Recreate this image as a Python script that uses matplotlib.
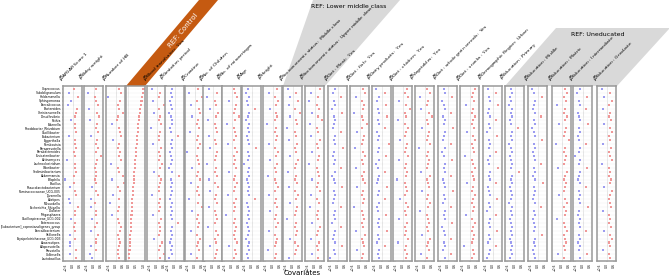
import numpy as np
import matplotlib.pyplot as plt
from matplotlib.patches import Polygon
from matplotlib.ticker import MaxNLocator

W, H = 669, 277

GENERA = [
    "Coprococcus", "Subdoligranulum", "Holdemanella", "Sphingomonas", "Faecalicoccus",
    "Bacteroides", "Christensenella", "Desulfovibrio", "Rothia", "Eikenella",
    "Rhodobacter_Rhizobium", "Oscillibacter", "Eubacterium", "Eggerthella", "Romboutsia",
    "Paraprevotella", "Parabacteroides", "Fusicatenibacter", "Actinomyces", "Lachnoclostridium",
    "Odoribacter", "Sediminibacterium", "Akkermansia", "Bilophila", "Bacillus",
    "Phascolarctobacterium", "Ruminococcaceae_UCG-005", "Tyzzerella", "Alistipes", "Mitsuokella",
    "Escherichia_Shigella", "Dialister", "Megasphaera", "Oscillospiraceae_UCG-002", "Enterococcus",
    "[Eubacterium]_coprostanoligenes_group", "Faecalibacterium", "Veillonella",
    "Erysipelotrichaceae_UCG-003", "Anaerostipes", "Alloprevotella", "Prevotella",
    "Collinsella", "Lactobacillus",
]

COVARIATES = [
    "APGAR Score 1", "Baby weight", "Number of HB", "Status: Anemic",
    "Blood transfusion: Yes", "Gestation period", "Creatine", "No. of Children",
    "No. of miscarriages", "Age", "Height", "Socioeconomic status: Middle class",
    "Socioeconomic status: Upper middle class", "Diet: Meat: Yes", "Diet: fish: Yes",
    "Dairy products: Yes", "Diet: chicken: Yes", "Vegetables: Yes",
    "Diet: whole grain cereals: Yes", "Diet: snacks: Yes", "Demographic Region: Urban",
    "Education: Primary", "Education: Middle", "Education: Matric",
    "Education: Intermediate", "Education: Graduate",
]

b01 = [0.1,-0.3,0.5,-0.1,-0.4,0.4,0.3,0.2,-0.1,0.2,0.2,0.3,-0.3,0.2,0.2,0.3,0.1,0.2,-0.5,0.2,0.2,0.3,0.1,-0.6,0.1,-0.2,0.2,0.3,-0.3,-0.2,0.5,0.2,0.2,-0.1,0.2,0.1,0.2,-0.2,0.2,-0.2,-0.2,0.3,-0.2,0.3]
b02 = [0.2,-0.5,0.1,0.2,0.4,-0.4,0.3,0.5,-0.3,0.3,0.2,0.4,-0.2,0.3,0.2,0.4,0.2,0.6,0.3,0.2,0.1,0.2,0.2,0.1,0.2,-0.1,0.2,0.4,-0.2,0.1,-0.2,0.2,0.2,-0.1,0.3,0.1,-0.2,0.4,0.2,0.2,-0.2,0.2,-0.3,-0.1]
b03 = [0.3,0.5,-0.6,0.4,0.2,0.3,0.6,0.2,0.1,-0.3,0.3,0.4,0.5,-0.2,0.3,0.2,0.4,0.3,0.5,-0.4,0.2,0.3,0.6,-0.3,0.7,0.2,0.4,-0.2,0.3,-0.5,0.3,0.2,-0.3,0.2,0.3,0.5,0.4,0.2,0.3,0.4,0.3,0.2,0.2,0.3]
b04 = [1.0,0.96,0.9,0.87,0.83,0.78,0.76,0.72,0.71,0.66,0.65,0.61,0.6,0.58,0.55,0.53,0.5,0.49,0.46,0.45,0.42,0.4,0.39,0.36,0.35,0.32,0.31,0.28,0.27,0.25,0.24,0.22,0.21,0.19,0.18,0.16,0.15,0.13,0.12,0.11,0.1,0.08,0.07,0.05]
b05 = [-0.4,0.3,0.2,-0.3,0.6,0.2,-0.2,0.3,0.2,0.4,-0.5,0.3,0.2,0.2,-0.3,0.4,0.2,0.3,0.2,0.5,0.3,-0.2,0.2,0.4,0.3,0.2,0.2,-0.4,0.3,0.2,0.3,0.2,-0.3,0.4,0.2,0.3,0.3,0.2,-0.2,0.5,0.3,0.2,0.6,0.3]
b06 = [-0.2,-0.3,-0.2,-0.4,-0.3,-0.2,-0.5,-0.3,-0.2,-0.2,-0.4,-0.3,0.3,-0.2,-0.3,-0.2,-0.4,-0.3,-0.2,-0.3,-0.5,-0.2,0.4,-0.3,-0.2,-0.3,-0.2,-0.3,-0.4,-0.2,-0.3,-0.2,-0.3,-0.2,0.3,-0.2,-0.3,-0.2,-0.3,-0.4,-0.2,-0.3,-0.2,-0.5]
b07 = [0.3,-0.5,0.6,0.2,-0.3,0.4,0.5,-0.2,0.3,0.2,0.4,-0.4,0.3,0.2,0.5,0.3,-0.6,0.2,0.3,0.4,-0.2,0.3,0.2,0.5,-0.3,0.3,0.2,0.4,-0.5,0.3,0.6,-0.2,0.3,0.2,0.4,0.3,-0.3,0.2,0.5,0.3,0.2,0.4,-0.3,0.2]
b08 = [-0.3,0.4,-0.5,0.2,0.3,-0.2,0.5,0.3,-0.4,0.2,0.3,0.4,-0.3,0.2,0.3,-0.2,0.4,0.3,0.2,-0.5,0.3,0.2,0.4,-0.3,0.2,0.5,-0.2,0.3,0.2,0.4,-0.3,0.2,0.3,0.4,0.2,-0.4,0.3,0.5,0.2,0.3,-0.2,0.4,0.3,0.2]
b09 = [0.2,0.3,0.5,-0.2,0.4,0.3,0.2,0.6,0.3,-0.4,0.2,0.3,0.4,0.2,-0.3,0.3,0.5,0.2,0.3,0.2,0.4,-0.2,0.3,0.2,0.5,0.3,0.2,-0.3,0.4,0.2,0.3,0.2,-0.5,0.3,0.2,0.4,0.3,0.2,0.3,0.5,-0.2,0.3,0.4,0.2]
b10 = [-0.3,-0.5,-0.2,-0.4,-0.3,0.3,-0.2,-0.3,-0.5,-0.2,-0.3,-0.2,-0.4,-0.3,-0.2,0.4,-0.3,-0.2,-0.3,-0.6,-0.2,-0.3,-0.2,-0.4,-0.3,-0.2,-0.3,-0.2,0.3,-0.4,-0.3,-0.2,-0.3,-0.2,-0.4,-0.3,-0.2,-0.3,-0.5,-0.2,-0.3,-0.2,-0.4,-0.3]
b11 = [0.4,-0.3,0.2,0.5,0.3,-0.2,0.3,0.4,0.2,-0.5,0.3,0.2,0.4,0.3,-0.3,0.2,0.5,0.3,-0.2,0.4,0.2,0.3,-0.4,0.2,0.3,0.5,0.2,-0.3,0.3,0.2,0.4,-0.2,0.3,0.2,0.5,0.3,-0.3,0.2,0.4,0.3,0.2,-0.4,0.3,0.2]
b12 = [-0.4,0.3,-0.2,0.5,-0.3,0.2,0.6,-0.2,0.3,0.4,-0.5,0.2,0.3,-0.3,0.4,0.2,0.3,-0.2,0.5,0.3,0.2,-0.4,0.3,0.2,0.4,-0.3,0.2,0.5,0.3,-0.2,0.4,0.3,0.2,-0.5,0.3,0.2,0.4,0.3,-0.2,0.2,0.5,0.3,0.2,-0.3]
b13 = [0.5,-0.3,0.3,-0.5,0.2,0.4,-0.2,0.3,0.6,-0.4,0.2,0.3,-0.3,0.5,0.2,0.3,-0.2,0.4,0.3,-0.5,0.2,0.3,0.4,-0.2,0.3,0.2,0.5,-0.3,0.2,0.4,-0.4,0.3,0.2,0.3,-0.2,0.5,0.3,0.2,-0.3,0.4,0.2,0.3,-0.2,0.3]
b14 = [-0.2,-0.4,0.3,-0.3,-0.2,-0.5,0.4,-0.3,-0.2,-0.3,-0.4,0.3,-0.2,-0.3,-0.2,0.5,-0.3,-0.4,-0.2,-0.3,0.3,-0.2,-0.5,-0.3,-0.2,0.4,-0.3,-0.2,-0.3,-0.4,0.3,-0.2,-0.3,-0.2,-0.5,0.3,-0.2,-0.3,-0.4,-0.2,0.4,-0.3,-0.2,-0.6]
b15 = [0.3,0.5,-0.3,0.2,0.4,0.3,-0.5,0.2,0.3,0.6,0.2,-0.2,0.4,0.3,0.2,-0.4,0.3,0.5,0.2,0.3,-0.3,0.4,0.2,0.3,0.5,-0.2,0.3,0.2,0.4,0.3,-0.5,0.2,0.3,0.4,0.2,0.3,-0.3,0.5,0.2,0.3,0.4,-0.2,0.3,0.2]
b16 = [-0.5,0.3,-0.2,-0.4,0.4,-0.3,-0.2,0.5,-0.3,-0.2,0.3,-0.4,-0.2,-0.3,0.6,-0.2,-0.3,0.4,-0.2,-0.5,-0.3,0.3,-0.2,-0.3,-0.4,0.5,-0.2,-0.3,0.3,-0.2,-0.4,-0.3,0.4,-0.2,-0.3,-0.2,0.5,-0.3,-0.2,-0.4,0.3,-0.2,-0.3,-0.2]
b17 = [0.4,0.2,0.5,-0.3,0.3,0.6,0.2,0.3,-0.4,0.2,0.5,0.3,0.2,-0.2,0.4,0.3,0.2,0.5,-0.3,0.3,0.2,0.4,0.3,-0.5,0.2,0.3,0.4,0.2,-0.2,0.3,0.5,0.2,0.3,-0.3,0.4,0.2,0.3,0.2,0.5,-0.4,0.3,0.2,0.4,0.3]
b18 = [0.2,0.5,-0.4,0.3,0.2,-0.3,0.4,0.6,0.2,0.3,-0.2,0.4,0.3,0.2,0.5,-0.5,0.3,0.2,0.4,0.3,0.2,-0.3,0.5,0.2,0.3,0.4,-0.2,0.3,0.2,0.5,0.3,-0.4,0.2,0.3,0.4,0.2,0.3,-0.2,0.5,0.3,0.2,0.4,-0.3,0.2]
b19 = [-0.3,-0.2,0.4,-0.5,-0.3,-0.2,0.3,-0.4,-0.2,-0.3,0.5,-0.2,-0.3,-0.4,0.3,-0.2,-0.5,-0.3,0.4,-0.2,-0.3,-0.2,0.3,-0.4,-0.3,-0.2,0.5,-0.3,-0.2,-0.4,0.3,-0.2,-0.3,-0.2,0.4,-0.5,-0.3,-0.2,0.3,-0.3,-0.2,-0.4,0.3,-0.2]
b20 = [0.5,0.3,0.2,0.4,-0.3,0.3,0.2,0.5,0.3,0.2,0.4,-0.2,0.3,0.5,0.2,0.3,0.4,-0.4,0.2,0.3,0.5,0.2,0.3,0.4,-0.2,0.3,0.2,0.5,0.3,0.2,0.4,0.3,-0.3,0.2,0.5,0.3,0.2,0.4,0.3,0.2,-0.5,0.3,0.4,0.2]
b21 = [-0.4,0.3,-0.3,-0.2,0.5,-0.3,-0.4,-0.2,0.3,-0.3,-0.2,-0.5,0.4,-0.3,-0.2,-0.3,0.3,-0.2,-0.4,-0.3,0.5,-0.2,-0.3,-0.2,0.3,-0.4,-0.3,-0.2,0.4,-0.3,-0.2,-0.5,0.3,-0.2,-0.3,-0.2,0.4,-0.3,-0.2,-0.4,0.3,-0.2,-0.3,-0.5]
b22 = [-0.3,-0.2,-0.4,-0.3,-0.5,-0.2,-0.3,-0.2,-0.4,-0.3,0.3,-0.2,-0.3,-0.2,-0.5,-0.3,-0.2,-0.4,-0.3,-0.2,-0.3,0.4,-0.2,-0.3,-0.2,-0.4,-0.3,-0.2,-0.3,-0.5,-0.2,-0.3,-0.2,-0.4,-0.3,-0.2,-0.3,-0.2,-0.4,-0.3,-0.2,-0.3,-0.2,-0.4]
b23 = [-0.5,-0.3,0.4,-0.2,-0.3,-0.4,-0.2,0.3,-0.3,-0.2,-0.5,-0.3,-0.2,0.4,-0.3,-0.2,-0.4,-0.3,-0.2,0.3,-0.3,-0.2,-0.4,-0.2,0.5,-0.3,-0.2,-0.3,-0.4,-0.2,0.3,-0.3,-0.2,-0.4,-0.3,-0.2,-0.3,0.4,-0.2,-0.3,-0.2,-0.4,-0.3,-0.2]
b24 = [0.3,0.5,0.2,0.4,-0.4,0.3,0.2,0.5,0.3,-0.2,0.4,0.3,0.2,0.6,-0.5,0.3,0.2,0.4,0.3,0.2,-0.3,0.5,0.3,0.2,0.4,0.3,0.2,-0.2,0.3,0.5,0.2,0.4,0.3,-0.4,0.2,0.3,0.5,0.2,0.3,0.4,0.2,0.3,-0.3,0.2]
b25 = [-0.2,-0.5,0.4,-0.3,-0.2,0.3,-0.4,-0.3,-0.2,0.5,-0.3,-0.2,-0.4,-0.3,0.3,-0.2,-0.3,-0.6,-0.2,-0.3,0.4,-0.2,-0.3,-0.4,-0.2,0.3,-0.3,-0.2,-0.3,-0.2,0.5,-0.3,-0.4,-0.2,-0.3,-0.2,0.3,-0.3,-0.2,-0.4,-0.2,-0.3,0.4,-0.2]
b26 = [-0.4,0.3,-0.2,0.5,0.2,-0.3,0.3,0.2,0.4,-0.2,0.3,0.5,0.2,0.3,-0.3,0.4,0.2,0.3,0.5,-0.4,0.2,0.3,0.2,0.4,0.3,-0.2,0.5,0.3,0.2,0.3,0.4,-0.3,0.2,0.3,0.2,0.4,-0.2,0.3,0.5,0.2,0.3,-0.3,0.2,0.3]

BETAS = [b01, b02, b03, b04, b05, b06, b07, b08, b09, b10, b11, b12, b13,
         b14, b15, b16, b17, b18, b19, b20, b21, b22, b23, b24, b25, b26]

# panel left edges in pixels
PANEL_LEFT = [63, 84, 106, 126, 147, 165, 185, 203, 222, 242, 263, 283, 305,
              328, 350, 372, 393, 415, 438, 460, 483, 505, 528, 552, 573, 597]
PANEL_W = 19
TOP, BOTTOM = 86, 261

RED = "#ee8080"
BLUE = "#8585ee"
ORANGE = "#c55a11"
GREY = "#d9d9d9"


def fx(px):
    return px / W


def fy(py):
    return 1 - py / H


def band(fig, pts, color):
    poly = Polygon([(fx(x), fy(y)) for x, y in pts], closed=True,
                   transform=fig.transFigure, facecolor=color,
                   edgecolor="none", zorder=-1)
    fig.add_artist(poly)


fig = plt.figure(figsize=(6.69, 2.77), dpi=100)

# reference bands behind the titles
band(fig, [(126, 86), (145, 86), (218, 0), (199, 0)], ORANGE)
band(fig, [(283, 86), (325, 86), (400, 0), (313, 0)], GREY)
band(fig, [(505, 86), (617, 86), (669, 29), (669, 28), (556, 28)], GREY)

fig.text(fx(183), fy(30), "REF: Control", color="white", fontsize=5,
         rotation=50, ha="center", va="center")
fig.text(fx(349), fy(7), "REF: Lower middle class", fontsize=4.5,
         ha="center", va="center")
fig.text(fx(598), fy(34), "REF: Uneducated", fontsize=4.5,
         ha="center", va="center")

n = len(GENERA)
for i, (cov, vals) in enumerate(zip(COVARIATES, BETAS)):
    left = PANEL_LEFT[i]
    ax = fig.add_axes([fx(left), fy(BOTTOM), PANEL_W / W, (BOTTOM - TOP) / H])
    vals = np.array(vals)
    y = np.arange(len(vals))

    for k in range(n):
        ax.axhline(k, color="#eeeeee", lw=0.3, zorder=0)
    ax.axvline(0, color="#b0b0b0", lw=0.4, ls=(0, (1, 1)), zorder=1)

    cols = np.where(vals >= 0, RED, BLUE)
    ax.scatter(vals, y, s=2.2, c=cols, marker="s", linewidths=0, alpha=0.8, zorder=2)

    if i == 3:
        ax.set_xlim(-0.15, 1.1)
    else:
        ax.set_xlim(-0.8, 0.8)
    ax.set_ylim(n - 0.3, -0.75)

    ax.xaxis.set_major_locator(MaxNLocator(nbins=3))
    ax.tick_params(axis="x", labelsize=2.2, labelrotation=90, length=1,
                   width=0.3, pad=0.5, color="#555555")
    if i == 0:
        ax.set_yticks(np.arange(n))
        ax.set_yticklabels(GENERA, fontsize=2.2)
        ax.tick_params(axis="y", length=1, width=0.3, pad=0.5)
    else:
        ax.set_yticks([])

    for sp in ax.spines.values():
        sp.set_color("#999999")
        sp.set_linewidth(1.1)

    tcol = "white" if i == 3 else "black"
    label = r"$\beta_{\mathrm{" + cov.replace(" ", r"\ ") + "}}$"
    ax.text(0.0, 1.015, label, transform=ax.transAxes, rotation=45,
            rotation_mode="anchor", ha="left", va="bottom", fontsize=4.6,
            color=tcol, clip_on=False)

fig.text(fx(302), fy(273), "Covariates", fontsize=5, ha="center", va="center")

fig.savefig("out.png", dpi=100)
